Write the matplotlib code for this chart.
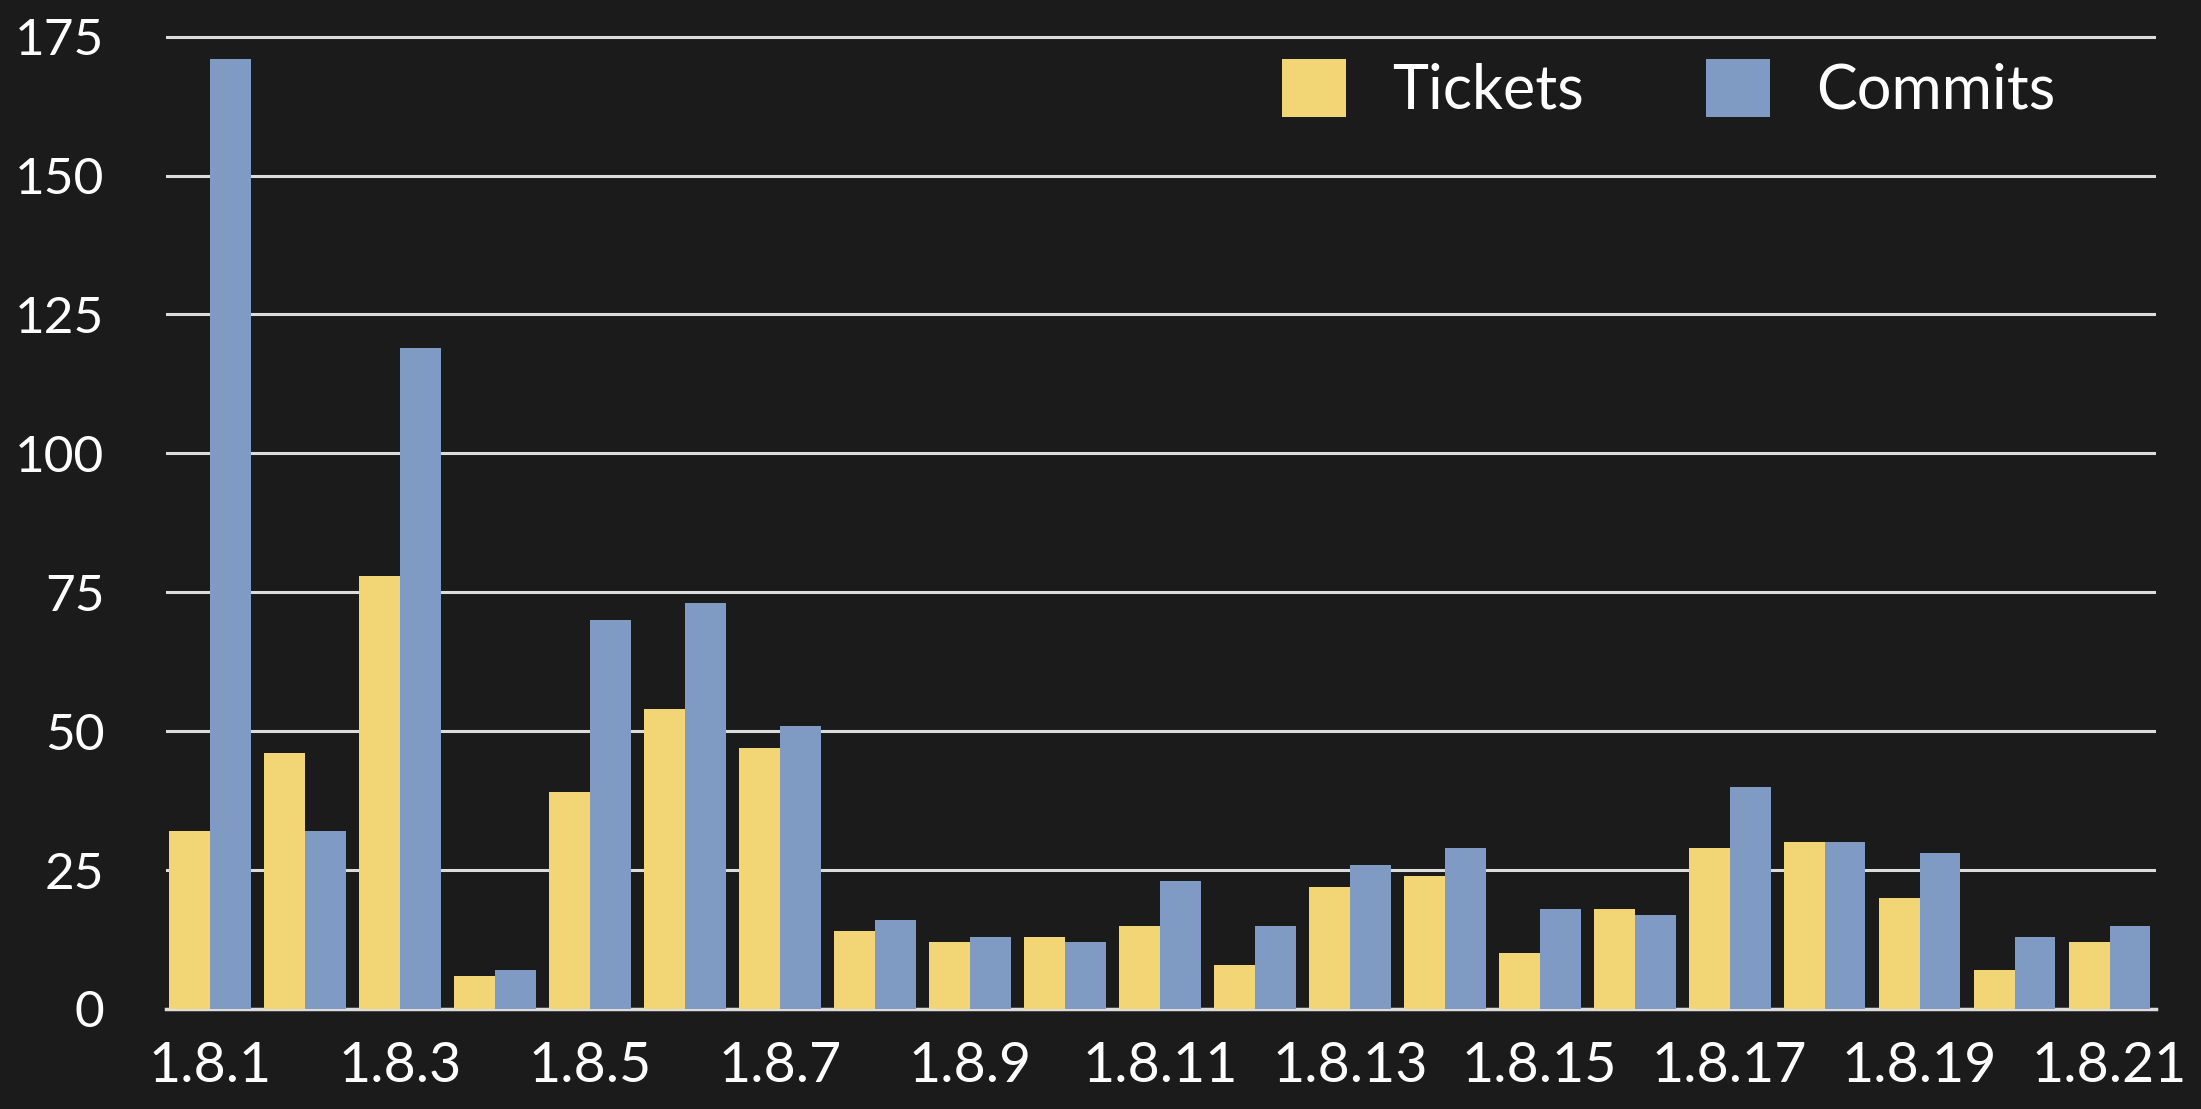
import matplotlib
matplotlib.use('Agg')
import matplotlib.pyplot as plt
import numpy as np

versions = ['1.8.%d' % i for i in range(1, 22)]
tickets = [32, 46, 78, 6, 39, 54, 47, 14, 12, 13, 15, 8, 22, 24, 10, 18, 29, 30, 20, 7, 12]
commits = [171, 32, 119, 7, 70, 73, 51, 16, 13, 12, 23, 15, 26, 29, 18, 17, 40, 30, 28, 13, 15]

BG = '#1b1b1b'
YELLOW = '#f2d675'
BLUE = '#7f9bc3'
GRID = '#dcdcdc'

plt.rcParams['font.family'] = ['Lato', 'DejaVu Sans']

fig = plt.figure(figsize=(22.01, 11.09), dpi=100, facecolor=BG)
ax = fig.add_axes([0.0752, 0.0902, 0.9044, 0.8818], facecolor=BG)

x = np.arange(len(versions))
w = 0.43
ax.bar(x - w / 2, tickets, width=w, color=YELLOW, label='Tickets', zorder=3)
ax.bar(x + w / 2, commits, width=w, color=BLUE, label='Commits', zorder=3)

ax.set_ylim(0, 176)
ax.set_xlim(-0.47, 20.49)
ax.set_yticks(range(0, 176, 25))
ax.yaxis.grid(True, color=GRID, linewidth=2.2, zorder=1)
ax.set_axisbelow(True)

# only every other version is labelled
ax.set_xticks(x[::2])
ax.set_xticklabels(versions[::2])
ax.tick_params(axis='x', length=0, pad=23, labelsize=40, colors='white')
ax.tick_params(axis='y', length=0, pad=44, labelsize=37, colors='white')

for s in ['top', 'right', 'left']:
    ax.spines[s].set_visible(False)
ax.spines['bottom'].set_color(GRID)
ax.spines['bottom'].set_linewidth(2.5)

leg = ax.legend(loc='upper right', bbox_to_anchor=(0.977, 1.028), ncol=2, frameon=False,
                fontsize=44, handlelength=1.05, handleheight=1.1,
                handletextpad=0.75, columnspacing=2.0, labelcolor='white')

plt.savefig('out.png', dpi=100, facecolor=BG)
